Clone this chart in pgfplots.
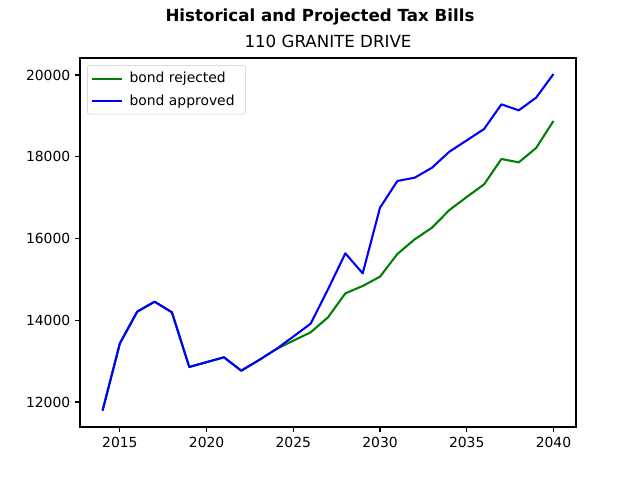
\documentclass[border=0pt]{standalone}
\usepackage{pgfplots}
\pgfplotsset{compat=1.18}
\usepackage{fontspec}
\setmainfont{DejaVu Sans}
\definecolor{mplgreen}{RGB}{0,128,0}
\definecolor{mplblue}{RGB}{0,0,255}
\begin{document}
\begin{tikzpicture}[x=1pt,y=1pt]
\path[use as bounding box] (0,0) rectangle (460.8,345.6);
\node[font=\fontsize{12}{14}\selectfont\bfseries] at (230.4,333.4) {Historical and Projected Tax Bills};
\begin{axis}[
  at={(57.6pt,38.16pt)}, anchor=south west,
  scale only axis, width=357.12pt, height=265.68pt,
  xmin=2012.7, xmax=2041.3, ymin=11388, ymax=20416,
  xtick={2015,2020,2025,2030,2035,2040},
  ytick={12000,14000,16000,18000,20000},
  scaled ticks=false,
  yticklabel style={/pgf/number format/fixed},
  /pgf/number format/1000 sep={},
  /pgf/number format/assume math mode=true,
  tick label style={font=\fontsize{10}{12}\selectfont},
  tick align=outside, xtick pos=bottom, ytick pos=left,
  major tick length=3.5pt,
  every tick/.style={black, line width=0.8pt},
  axis line style={line width=0.8pt},
  title={110 GRANITE DRIVE},
  title style={font=\fontsize{12}{14}\selectfont, yshift=-2pt},
  legend style={at={(0.014,0.981)}, anchor=north west, draw=lightgray!80, rounded corners=2pt, font=\fontsize{10}{12}\selectfont, row sep=3pt, inner xsep=3pt, inner ysep=3pt, nodes={inner xsep=5pt}},
  legend cell align=left,
  legend image code/.code={\draw[#1] (0pt,0pt) -- (21pt,0pt);},
]
\addplot[mplgreen, line width=1.5pt, line join=round] coordinates {
(2014,11787)(2015,13435)(2016,14210)(2017,14454)(2018,14194)(2019,12856)(2020,12975)(2021,13093)(2022,12766)(2023,13020)(2024,13289)(2025,13500)(2026,13704)(2027,14071)(2028,14658)(2029,14838)(2030,15066)(2031,15621)(2032,15980)(2033,16265)(2034,16697)(2035,17015)(2036,17325)(2037,17945)(2038,17863)(2039,18214)(2040,18875)};
\addlegendentry{bond rejected}
\addplot[mplblue, line width=1.5pt, line join=round] coordinates {
(2014,11787)(2015,13435)(2016,14210)(2017,14454)(2018,14194)(2019,12856)(2020,12975)(2021,13093)(2022,12766)(2023,13020)(2024,13289)(2025,13600)(2026,13916)(2027,14756)(2028,15637)(2029,15148)(2030,16754)(2031,17407)(2032,17488)(2033,17733)(2034,18124)(2035,18401)(2036,18679)(2037,19282)(2038,19136)(2039,19445)(2040,20024)};
\addlegendentry{bond approved}
\end{axis}
\end{tikzpicture}
\end{document}
